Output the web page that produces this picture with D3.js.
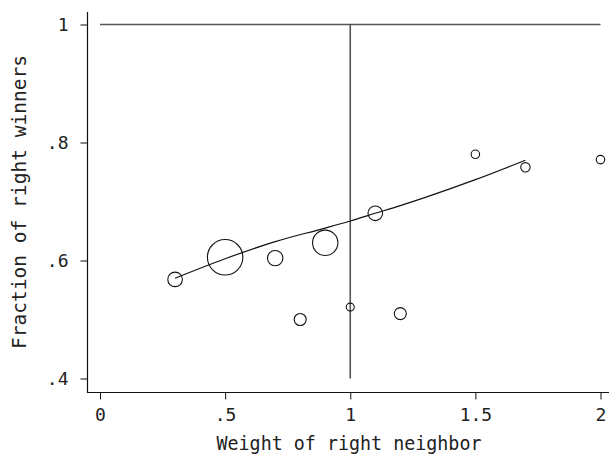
<!DOCTYPE html>
<html><head><meta charset="utf-8">
<script src="https://cdn.jsdelivr.net/npm/d3@7"></script>
<style>
body{margin:0;background:#fff;}
svg{display:block;}
text{font-family:"DejaVu Sans Mono",monospace;fill:#222;}
</style></head>
<body><svg id="c" width="609" height="454"></svg>
<script>
const weight = [0.3, 0.5, 0.7, 0.8, 0.9, 1.0, 1.1, 1.2, 1.5, 1.7, 2.0];
const fraction = [0.568, 0.6055, 0.604, 0.5, 0.63, 0.521, 0.68, 0.51, 0.78, 0.758, 0.771];
const count = [53, 313, 59, 36, 161, 16, 53, 36, 18, 22, 18];
const fitX = [0.3, 0.5, 0.7, 0.9, 1.0, 1.1, 1.2, 1.3, 1.5, 1.7];
const fitY = [0.570, 0.603, 0.632, 0.655, 0.667, 0.680, 0.693, 0.707, 0.737, 0.770];
const xTicks = [0, 0.5, 1, 1.5, 2];
const xTickLabels = ["0", ".5", "1", "1.5", "2"];
const yTicks = [0.4, 0.6, 0.8, 1];
const yTickLabels = [".4", ".6", ".8", "1"];
const xTitle = "Weight of right neighbor";
const yTitle = "Fraction of right winners";

const svg = d3.select("#c");
const L = 87.5, R = 609, T = 12, B = 392.5;
const x = d3.scaleLinear().domain([0, 2]).range([100, 600.5]);
const y = d3.scaleLinear().domain([0.4, 1]).range([378.5, 24.5]);
const r = d3.scaleSqrt().domain([0, d3.max(count)]).range([0, 17.7]);

// reference lines
svg.append("line").attr("x1", x(0)).attr("x2", x(2)).attr("y1", y(1)).attr("y2", y(1))
  .attr("stroke", "#555").attr("stroke-width", 1.4);
svg.append("line").attr("x1", x(1)).attr("x2", x(1)).attr("y1", y(1)).attr("y2", y(0.4))
  .attr("stroke", "#555").attr("stroke-width", 1.6);

// axes
const fs = 18;
const yAxis = d3.axisLeft(y).tickValues(yTicks).tickSize(7).tickPadding(12)
  .tickFormat((d, i) => yTickLabels[i]);
const gy = svg.append("g").attr("transform", `translate(${L},0)`).call(yAxis);
gy.select(".domain").remove();
gy.selectAll("text").attr("font-size", fs).attr("font-family", "DejaVu Sans Mono").attr("fill", "#222");
gy.selectAll("line").attr("stroke", "#111");

const xAxis = d3.axisBottom(x).tickValues(xTicks).tickSize(7).tickPadding(12)
  .tickFormat((d, i) => xTickLabels[i]);
const gx = svg.append("g").attr("transform", `translate(0,${B})`).call(xAxis);
gx.select(".domain").remove();
gx.selectAll("text").attr("font-size", fs).attr("font-family", "DejaVu Sans Mono").attr("fill", "#222")
  .attr("y", 28).attr("dy", 0);
gx.selectAll("line").attr("stroke", "#111");

svg.append("path").attr("d", `M${L},${T}V${B}H${R}`).attr("fill", "none")
  .attr("stroke", "#111").attr("stroke-width", 1.2);

// circles
const pts = weight.map((w, i) => ({w, f: fraction[i], n: count[i]}));
svg.append("g").selectAll("circle").data(pts).join("circle")
  .attr("cx", d => x(d.w)).attr("cy", d => y(d.f)).attr("r", d => r(d.n))
  .attr("fill", "none").attr("stroke", "#111").attr("stroke-width", 1.1);

// fit line
const line = d3.line().x(d => x(d[0])).y(d => y(d[1])).curve(d3.curveMonotoneX);
svg.append("path").datum(fitX.map((v, i) => [v, fitY[i]])).attr("d", line)
  .attr("fill", "none").attr("stroke", "#111").attr("stroke-width", 1.2);

// titles
const tfs = 19;
svg.append("text").attr("x", 349).attr("y", 450).attr("text-anchor", "middle")
  .attr("font-size", tfs).attr("textLength", 265).attr("lengthAdjust", "spacingAndGlyphs").text(xTitle);
svg.append("text").attr("transform", "translate(26,202) rotate(-90)").attr("text-anchor", "middle")
  .attr("font-size", tfs).attr("textLength", 294).attr("lengthAdjust", "spacingAndGlyphs").text(yTitle);
</script></body></html>
